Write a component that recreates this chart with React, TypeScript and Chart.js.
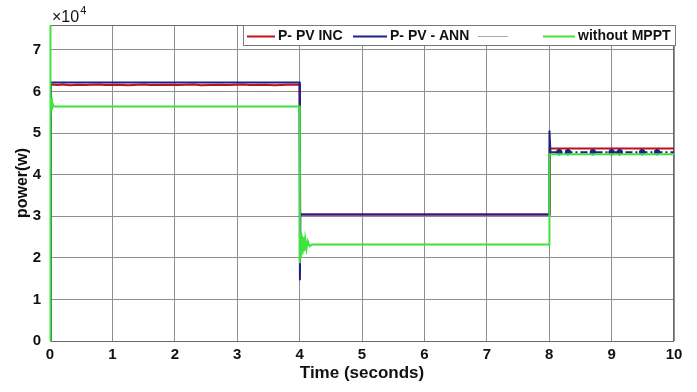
import React, { useEffect, useRef } from 'react';
import { Chart, registerables } from 'chart.js';

Chart.register(...registerables);

// ---------- data ----------
const X_MIN = 0;
const X_MAX = 10;
const Y_MAX = 76000;
const Y_STEP = 10000;
const yTickValues = [0, 10000, 20000, 30000, 40000, 50000, 60000, 70000];

const seriesLabels = ['P- PV INC', 'P- PV - ANN', '', 'without MPPT'];

// P-PV INC (dark red)
const incTime = [0, 0.01, 0.12, 0.2, 0.32, 0.45, 0.55, 0.8, 0.88, 1.1, 1.25, 1.5, 1.62, 1.9, 2.05, 2.3, 2.42, 2.7, 2.85, 3.1, 3.2, 3.45, 3.6, 3.8, 3.99, 4.0, 4.01, 8.0, 8.01, 10];
const incPower = [0, 61700, 61550, 61700, 61500, 61650, 61550, 61700, 61550, 61650, 61500, 61700, 61550, 61650, 61550, 61700, 61500, 61650, 61550, 61700, 61550, 61650, 61500, 61650, 61650, 61650, 30400, 30400, 46300, 46300];

// P-PV ANN (navy)
const annTime = [0, 0.01, 4.0, 4.005, 4.012, 8.0, 8.004, 8.02, 8.16, 8.3, 8.7, 9.0, 9.13, 9.49, 9.73, 10];
const annPower = [0, 62200, 62200, 14600, 30400, 30400, 50600, 45400, 45400, 45400, 45400, 45400, 45400, 45400, 45400, 45400];
const annMarkerTimes = [8.16, 8.3, 8.7, 9.0, 9.13, 9.49, 9.73];

// without MPPT (green)
const greenTime = [0, 0.003, 0.012, 0.02, 0.03, 0.04, 0.06, 4.0, 4.004, 4.012, 4.022, 4.034, 4.046, 4.06, 4.075, 4.09, 4.11, 4.13, 4.16, 4.2, 8.0, 8.004, 10];
const greenPower = [0, 76000, 54000, 58500, 55500, 57200, 56400, 56400, 18700, 26200, 20000, 25600, 20900, 25000, 21600, 24500, 22200, 24000, 22800, 23200, 23200, 44900, 44900];

const FONT = "'Liberation Sans', Arial, sans-serif";

const toPoints = (t: number[], v: number[]) => t.map((x, i) => ({ x, y: v[i] }));

const colors = ['#c0101c', '#202088', '#a8a8a8', '#3ce43c'];

const framePlugin = {
  id: 'frame',
  beforeDatasetsDraw(chart: any) {
    const { ctx, chartArea: a } = chart;
    ctx.save();
    ctx.strokeStyle = '#6a6a6a';
    ctx.lineWidth = 1;
    ctx.strokeRect(a.left + 0.5, a.top + 0.5, a.right - a.left - 1, a.bottom - a.top);
    ctx.restore();
  },
  afterDraw(chart: any) {
    const { ctx, chartArea: a } = chart;
    ctx.save();
    // exponent label
    ctx.fillStyle = '#111';
    ctx.textBaseline = 'alphabetic';
    ctx.textAlign = 'left';
    ctx.font = `16px ${FONT}`;
    ctx.fillText('\u00d710', a.left + 2, a.top - 3);
    const w = ctx.measureText('\u00d710').width;
    ctx.font = `11px ${FONT}`;
    ctx.fillText('4', a.left + 2 + w + 1, a.top - 11);

    // legend box
    const bx = a.right - 431;
    const by = a.top;
    const bw = 433;
    const bh = 21;
    ctx.fillStyle = '#ffffff';
    ctx.fillRect(bx, by, bw, bh);
    ctx.strokeStyle = '#7a7a7a';
    ctx.lineWidth = 1;
    ctx.strokeRect(bx + 0.5, by + 0.5, bw - 1, bh - 1);
    const lineStarts = [4, 110, 235, 300];
    const lineLens = [28, 34, 30, 32];
    const cy = by + bh / 2 + 1;
    ctx.font = `bold 14px ${FONT}`;
    ctx.textBaseline = 'middle';
    chart.data.datasets.forEach((ds: any, i: number) => {
      const x0 = bx + lineStarts[i];
      ctx.strokeStyle = ds.borderColor;
      ctx.lineWidth = i === 2 ? 1 : 2;
      ctx.beginPath();
      ctx.moveTo(x0, cy);
      ctx.lineTo(x0 + lineLens[i], cy);
      ctx.stroke();
      if (ds.label) {
        ctx.fillStyle = '#111';
        ctx.fillText(ds.label, x0 + lineLens[i] + 3, cy);
      }
    });
    ctx.restore();
  },
};

export default function App() {
  const ref = useRef<HTMLCanvasElement | null>(null);

  useEffect(() => {
    document.body.style.margin = '0';
    const canvas = ref.current;
    if (!canvas) return;
    const tickFont = { family: FONT, size: 15, weight: 'bold' as const };
    const chart = new Chart(canvas, {
      type: 'line',
      data: {
        datasets: [
          {
            label: seriesLabels[0],
            data: toPoints(incTime, incPower),
            borderColor: colors[0],
            backgroundColor: colors[0],
            borderWidth: 2,
            pointRadius: 0,
            order: 2,
          },
          {
            label: seriesLabels[1],
            data: toPoints(annTime, annPower),
            borderColor: colors[1],
            backgroundColor: colors[1],
            borderWidth: 2,
            pointRadius: (c: any) => (annMarkerTimes.includes(c.raw?.x) ? 2.8 : 0),
            pointBorderWidth: 1,
            segment: {
              borderDash: (c: any) => (c.p0.parsed.x >= 8.02 ? [7, 3, 2, 3] : undefined),
            },
            order: 1,
          },
          {
            label: seriesLabels[2],
            data: [],
            borderColor: colors[2],
            backgroundColor: colors[2],
            borderWidth: 1,
            pointRadius: 0,
            order: 3,
          },
          {
            label: seriesLabels[3],
            data: toPoints(greenTime, greenPower),
            borderColor: colors[3],
            backgroundColor: colors[3],
            borderWidth: 2,
            pointRadius: 0,
            clip: 3,
            order: 0,
          },
        ],
      },
      options: {
        animation: false,
        responsive: false,
        devicePixelRatio: 1,
        layout: { padding: { top: 25, right: 23, left: 0, bottom: 0 } },
        plugins: {
          legend: { display: false },
          tooltip: { enabled: false },
        },
        elements: { line: { tension: 0 } },
        scales: {
          x: {
            type: 'linear',
            min: X_MIN,
            max: X_MAX,
            ticks: { stepSize: 1, font: tickFont, color: '#111', padding: 5, maxRotation: 0 },
            grid: { color: '#8e8e8e', drawTicks: false },
            border: { display: false },
            title: {
              display: true,
              text: 'Time (seconds)',
              font: { family: FONT, size: 17, weight: 'bold' },
              color: '#111',
              padding: 8,
            },
            afterFit: (s: any) => {
              s.height = 51;
            },
          },
          y: {
            type: 'linear',
            min: 0,
            max: Y_MAX,
            ticks: {
              font: tickFont,
              color: '#111',
              padding: 9,
              autoSkip: false,
              callback: (v: any) => String(Math.round(Number(v) / Y_STEP)),
            },
            afterBuildTicks: (s: any) => {
              s.ticks = yTickValues.map((value) => ({ value }));
            },
            grid: { color: '#8e8e8e', drawTicks: false },
            border: { display: false },
            title: {
              display: true,
              text: 'power(w)',
              font: { family: FONT, size: 16, weight: 'bold' },
              color: '#111',
              padding: 13,
            },
            afterFit: (s: any) => {
              s.width = 50;
            },
          },
        },
      },
      plugins: [framePlugin],
    });
    return () => chart.destroy();
  }, []);

  return (
    <div style={{ width: 697, height: 392, position: 'relative', background: '#fff' }}>
      <canvas ref={ref} width={697} height={392} />
    </div>
  );
}
